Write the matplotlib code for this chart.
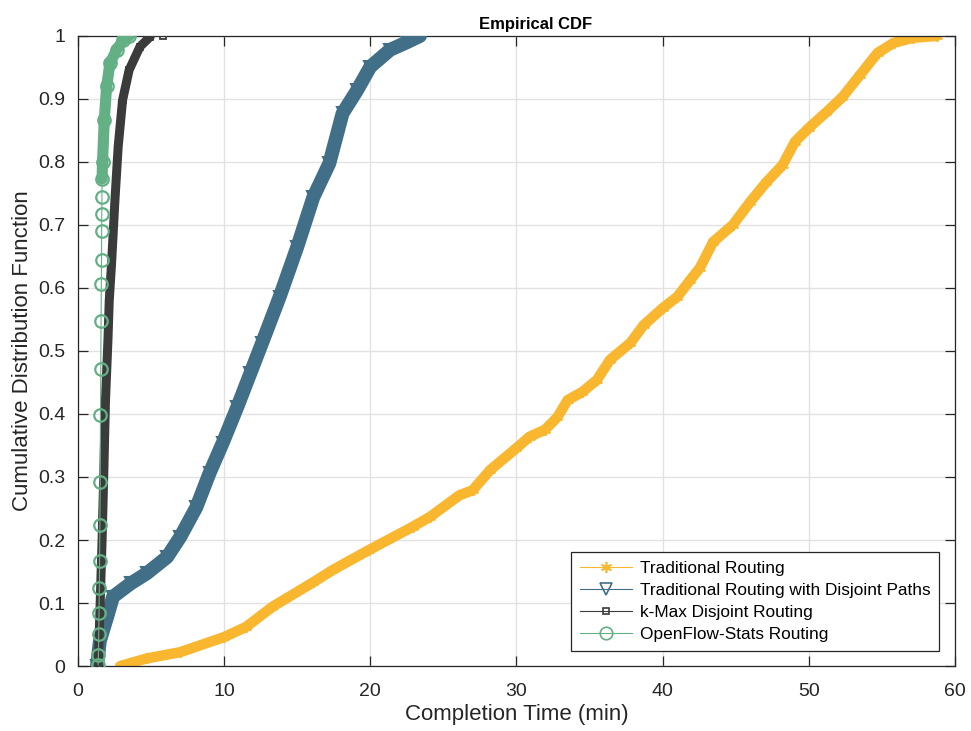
import matplotlib
matplotlib.use("Agg")
import matplotlib.pyplot as plt
from matplotlib.lines import Line2D
from matplotlib.ticker import FuncFormatter
import numpy as np

plt.rcParams['font.family'] = ['Liberation Sans', 'DejaVu Sans']

# valores (tempo em min, F acumulada)
trad_x = [2.9, 4.7, 7.0, 10.0, 11.5, 13.3, 16.1, 17.4, 19.9, 22.9, 24.1, 26.1, 27.0,
          28.2, 30.0, 30.9, 31.95, 32.8, 33.5, 34.5, 35.5, 36.4, 37.8, 38.7, 40.0,
          41.0, 41.9, 42.55, 43.45, 44.8, 46.0, 47.1, 48.2, 49.05, 50.0, 51.2, 52.3,
          53.5, 54.7, 55.8, 57.1, 58.75]
trad_F = [0.0, 0.012, 0.022, 0.046, 0.062, 0.094, 0.133, 0.152, 0.184, 0.221, 0.237,
          0.271, 0.279, 0.311, 0.346, 0.364, 0.375, 0.395, 0.422, 0.435, 0.454, 0.486,
          0.513, 0.541, 0.568, 0.586, 0.613, 0.632, 0.673, 0.700, 0.737, 0.768, 0.795,
          0.832, 0.854, 0.879, 0.903, 0.938, 0.973, 0.989, 0.997, 1.0]

disj_x = [1.3, 1.5, 2.0, 2.4, 3.6, 4.7, 6.1, 7.0, 8.1, 9.0, 9.9, 10.9, 11.8, 12.6,
          13.8, 15.0, 16.1, 17.2, 18.1, 19.1, 20.0, 21.35, 22.5, 23.4]
disj_F = [0.0, 0.04, 0.078, 0.11, 0.131, 0.147, 0.173, 0.205, 0.252, 0.306, 0.354,
          0.411, 0.465, 0.513, 0.586, 0.665, 0.744, 0.798, 0.877, 0.914, 0.951, 0.978,
          0.990, 1.0]

kmax_x = [1.39, 1.45, 1.52, 1.65, 1.76, 1.88, 2.05, 2.14, 2.3, 2.53, 2.75, 3.05, 3.5,
          4.24, 4.95, 5.84]
kmax_F = [0.0, 0.05, 0.1, 0.2, 0.3, 0.42, 0.517, 0.58, 0.64, 0.74, 0.824, 0.898, 0.946,
          0.983, 0.999, 1.0]

ofs_x = [1.38, 1.40, 1.42, 1.44, 1.46, 1.48, 1.50, 1.52, 1.54, 1.56, 1.58, 1.60, 1.61,
         1.62, 1.63, 1.64, 1.65, 1.68, 1.80, 1.96, 2.19, 2.65, 3.1, 3.5]
ofs_F = [0.002, 0.018, 0.051, 0.084, 0.124, 0.166, 0.224, 0.292, 0.398, 0.471, 0.547,
         0.606, 0.645, 0.691, 0.717, 0.745, 0.773, 0.80, 0.867, 0.92, 0.957, 0.978,
         0.994, 1.0]

nomes = ['Traditional Routing', 'Traditional Routing with Disjoint Paths',
         'k-Max Disjoint Routing', 'OpenFlow-Stats Routing']
cores = ['#F9B72F', '#426F88', '#3B3B3B', '#64B085']
asterisco = (6, 2, 0)

fig = plt.figure(figsize=(9.71, 7.31), dpi=100)
ax = fig.add_axes([0.0803, 0.0889, 0.9032, 0.8619])

# faixa grossa por baixo (imita os marcadores sobrepostos)
estilo = dict(solid_capstyle='round', solid_joinstyle='round')
ax.plot(trad_x, trad_F, color=cores[0], lw=7.5, zorder=2, **estilo)
ax.plot(disj_x, disj_F, color=cores[1], lw=10, zorder=3, **estilo)
ax.plot(kmax_x[:-1], kmax_F[:-1], color=cores[2], lw=6.5, zorder=4, **estilo)
ax.plot(ofs_x[16:], ofs_F[16:], color=cores[3], lw=8, zorder=5, **estilo)

ax.plot(trad_x, trad_F, color=cores[0], lw=0.8, marker=asterisco, ms=8, mew=1.2, zorder=2)
ax.plot(disj_x, disj_F, color=cores[1], lw=0.8, marker='v', ms=8, mfc='none', mew=1.5, zorder=3)
ax.plot(kmax_x, kmax_F, color=cores[2], lw=0.8, marker='s', ms=5, mfc='none', mew=1.3, zorder=4)
ax.plot(ofs_x, ofs_F, color=cores[3], lw=0.8, marker='o', ms=9, mfc='none', mew=1.6, zorder=5)

ax.set_xlim(0, 60)
ax.set_ylim(0, 1)
ax.set_xticks(np.arange(0, 61, 10))
ax.set_yticks(np.arange(0, 1.01, 0.1))
ax.yaxis.set_major_formatter(FuncFormatter(lambda v, p: f'{v:g}'))
ax.grid(True, color='#E2E2E2', lw=1.0)
ax.set_axisbelow(True)
ax.tick_params(direction='in', length=7, width=0.9, top=True, right=True,
               labelsize=14, colors='#262626')
ax.tick_params(axis='x', pad=12)
ax.tick_params(axis='y', pad=9)
for s in ax.spines.values():
    s.set_color('#262626')
    s.set_linewidth(0.9)

ax.set_xlabel('Completion Time (min)', fontsize=16, color='#262626', labelpad=3)
ax.set_ylabel('Cumulative Distribution Function', fontsize=16, color='#262626', labelpad=4)
ax.set_title('Empirical CDF', fontsize=12, fontweight='bold', pad=5, x=0.522)

marcas = [asterisco, 'v', 's', 'o']
tamanhos = [8, 8, 5, 9]
handles = [Line2D([], [], color=c, lw=0.8, marker=m, ms=t, mew=1.2,
                  mfc=(c if i == 0 else 'none'))
           for i, (c, m, t) in enumerate(zip(cores, marcas, tamanhos))]
leg = ax.legend(handles, nomes, loc='lower right', fontsize=12.4, handlelength=3.0,
                handletextpad=0.5, fancybox=False, edgecolor='#262626', framealpha=1,
                borderaxespad=0.9, labelspacing=0.4, borderpad=0.5)
leg.get_frame().set_linewidth(0.9)

fig.savefig('out.png', dpi=100)
